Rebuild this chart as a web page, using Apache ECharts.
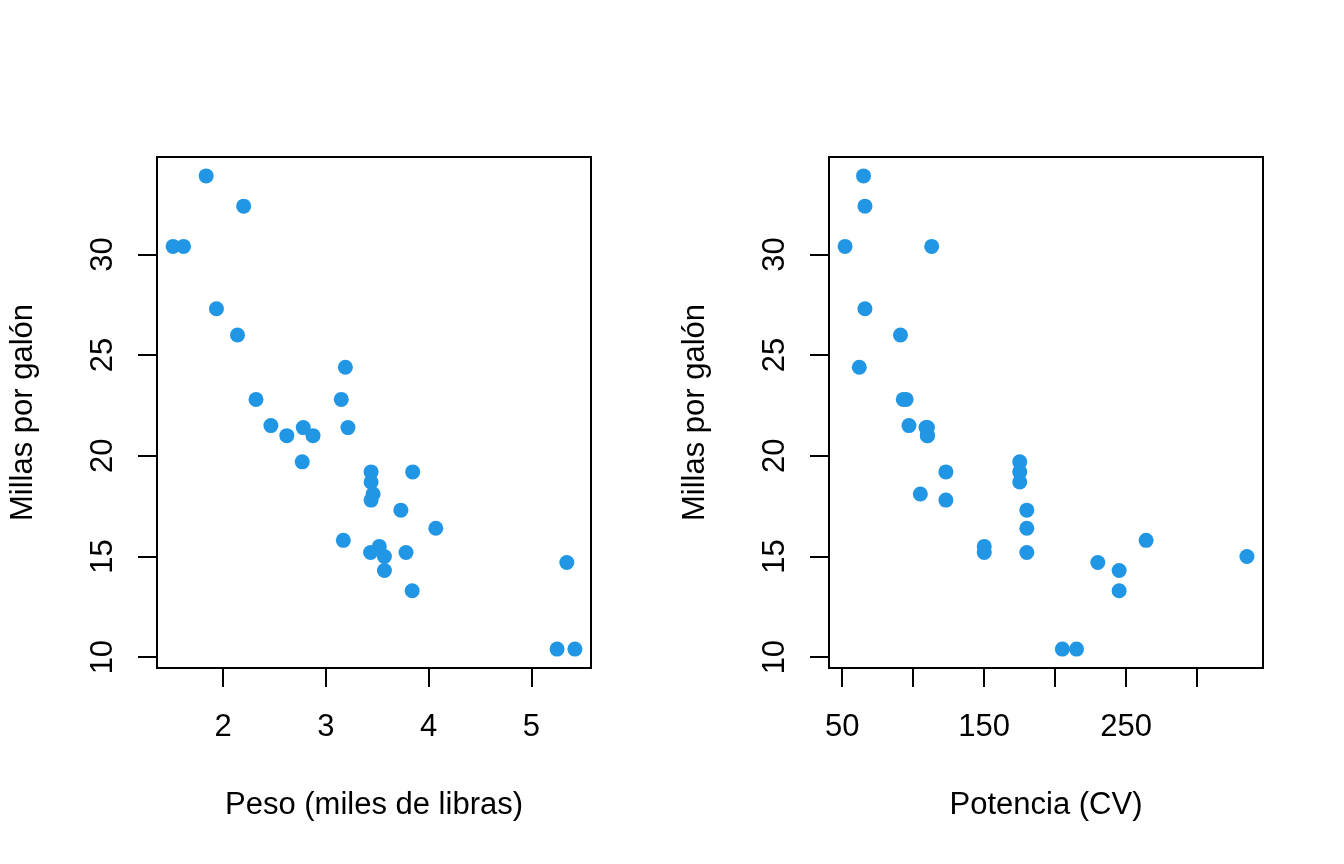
<!DOCTYPE html>
<html>
<head>
<meta charset="utf-8">
<script src="https://cdn.jsdelivr.net/npm/echarts@6/dist/echarts.min.js"></script>
<style>
  html, body { margin: 0; padding: 0; background: #fff; }
  #root { width: 1344px; height: 864px; }
</style>
</head>
<body>
<div id="root"></div>
<script>
// mtcars: peso, potencia, millas por galon
const wt = [2.620, 2.875, 2.320, 3.215, 3.440, 3.460, 3.570, 3.190, 3.150, 3.440, 3.440, 4.070, 3.730, 3.780, 5.250, 5.424,
            5.345, 2.200, 1.615, 1.835, 2.465, 3.520, 3.435, 3.840, 3.845, 1.935, 2.140, 1.513, 3.170, 2.770, 3.570, 2.780]
const hp = [110, 110, 93, 110, 175, 105, 245, 62, 95, 123, 123, 180, 180, 180, 205, 215,
            230, 66, 52, 65, 97, 150, 150, 245, 175, 66, 91, 113, 264, 175, 335, 109]
const mpg = [21.0, 21.0, 22.8, 21.4, 18.7, 18.1, 14.3, 24.4, 22.8, 19.2, 17.8, 16.4, 17.3, 15.2, 10.4, 10.4,
             14.7, 32.4, 30.4, 33.9, 21.5, 15.5, 15.2, 13.3, 19.2, 27.3, 26.0, 30.4, 15.8, 19.7, 15.0, 21.4]

const yTicks = [10, 15, 20, 25, 30]
const wtTicks = [2, 3, 4, 5]
const hpTicks = [50, 100, 150, 200, 250, 300]
const hpLabels = [50, 150, 250]

const yTitle = 'Millas por galón'
const wtTitle = 'Peso (miles de libras)'
const hpTitle = 'Potencia (CV)'

const font = "'Liberation Sans', Arial, sans-serif"
const pointColor = '#2196E5'

// R style range: data range widened 4%
function padRange (arr) {
    let lo = Math.min(...arr), hi = Math.max(...arr)
    let d = (hi - lo) * 0.04
    return [lo - d, hi + d]
}

const yR = padRange(mpg)
const wtR = padRange(wt)
const hpR = padRange(hp)

function xAxisFor (idx, r, ticks, labels, title) {
    return {
        type: 'value', gridIndex: idx, min: r[0], max: r[1],
        splitLine: { show: false },
        axisLine: { show: false },
        axisTick: { show: true, inside: false, length: 19, customValues: ticks,
                    lineStyle: { color: '#000', width: 2 } },
        axisLabel: { customValues: labels, margin: 44, fontSize: 31, color: '#000', fontFamily: font },
        name: title, nameLocation: 'middle', nameGap: 122,
        nameTextStyle: { fontSize: 31, color: '#000', fontFamily: font }
    }
}

function yAxisFor (idx) {
    return {
        type: 'value', gridIndex: idx, min: yR[0], max: yR[1],
        splitLine: { show: false },
        axisLine: { show: false },
        axisTick: { show: true, inside: false, length: 19, customValues: yTicks,
                    lineStyle: { color: '#000', width: 2 } },
        axisLabel: { customValues: yTicks, rotate: 90, margin: 38, fontSize: 31, color: '#000', fontFamily: font },
        name: yTitle, nameLocation: 'middle', nameGap: 118, nameRotate: 90,
        nameTextStyle: { fontSize: 31, color: '#000', fontFamily: font }
    }
}

const chart = echarts.init(document.getElementById('root'), null, { renderer: 'canvas' })

const option = {
    animation: false,
    backgroundColor: '#fff',
    grid: [
        { left: 157, right: 753, top: 157, bottom: 196, show: true, borderColor: '#000', borderWidth: 2,
          containLabel: false, outerBoundsMode: 'none' },
        { left: 829, right: 81, top: 157, bottom: 196, show: true, borderColor: '#000', borderWidth: 2,
          containLabel: false, outerBoundsMode: 'none' }
    ],
    xAxis: [
        xAxisFor(0, wtR, wtTicks, wtTicks, wtTitle),
        xAxisFor(1, hpR, hpTicks, hpLabels, hpTitle)
    ],
    yAxis: [yAxisFor(0), yAxisFor(1)],
    series: [
        {
            type: 'scatter', xAxisIndex: 0, yAxisIndex: 0,
            symbolSize: 15, itemStyle: { color: pointColor, opacity: 1 },
            data: wt.map((w, i) => [w, mpg[i]])
        },
        {
            type: 'scatter', xAxisIndex: 1, yAxisIndex: 1,
            symbolSize: 15, itemStyle: { color: pointColor, opacity: 1 },
            data: hp.map((h, i) => [h, mpg[i]])
        }
    ]
}
chart.setOption(option)
</script>
</body>
</html>
